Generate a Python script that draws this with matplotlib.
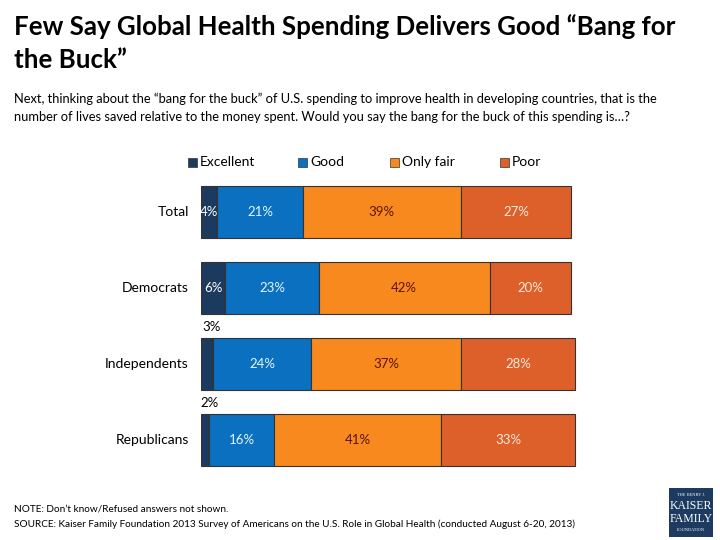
import matplotlib
matplotlib.use("Agg")
import matplotlib.pyplot as plt
from matplotlib.patches import Rectangle

FONT = "Lato"
plt.rcParams['font.family'] = [FONT, 'DejaVu Sans']

categories = ["Total", "Democrats", "Independents", "Republicans"]
series = ["Excellent", "Good", "Only fair", "Poor"]
excellent = [4, 6, 3, 2]
good = [21, 23, 24, 16]
only_fair = [39, 42, 37, 41]
poor = [27, 20, 28, 33]
values = [excellent, good, only_fair, poor]

colors = ["#1c3a5e", "#0a70bf", "#f7891e", "#dd5f2a"]
label_colors = ["white", "#e8f6ff", "#5a1500", "#fde9dc"]

W, H = 720, 540
fig = plt.figure(figsize=(7.2, 5.4), dpi=100)
renderer = fig.canvas.get_renderer()


def fx(px):
    return px / W


def fy(py):
    return 1 - py / H


def fit(t, target_px):
    """Scale a text's font size so its width matches target_px."""
    w = t.get_window_extent(renderer=renderer).width
    t.set_fontsize(t.get_fontsize() * target_px / w)


# axes: x=0 at px 201, 100% at ~607.6; rows every 76 px, centers 212..440
ax = fig.add_axes([fx(201), fy(478), (607.6 - 201) / W, 304 / H])
ax.set_xlim(0, 100)
ax.set_ylim(len(categories) - 0.5, -0.5)
ax.axis("off")

ypos = list(range(len(categories)))
left = [0] * len(categories)
for s, vals, c, lc in zip(series, values, colors, label_colors):
    ax.barh(ypos, vals, left=left, height=0.684, color=c,
            edgecolor="#333333", linewidth=0.8, label=s)
    for i, (v, l) in enumerate(zip(vals, left)):
        if v >= 4:
            ax.text(l + v / 2, i, f"{v}%", ha="center", va="center",
                    color=lc, fontsize=9.5)
        else:
            ax.text(l + v / 2 + 1.2, i - 0.342 - 0.06, f"{v}%", ha="center",
                    va="bottom", color="black", fontsize=9.5)
    left = [a + b for a, b in zip(left, vals)]

for i, cat in enumerate(categories):
    ax.text(-3.0, i, cat, ha="right", va="center", fontsize=10, color="black")

# legend
leg_x = [188, 298, 390, 500]
for s, c, x in zip(series, colors, leg_x):
    fig.patches.append(Rectangle((fx(x), fy(167)), 9 / W, 9 / H,
                                 transform=fig.transFigure, facecolor=c,
                                 edgecolor="#333333", linewidth=0.5))
    fig.text(fx(x + 12), fy(162), s, ha="left", va="center", fontsize=10)

# title and subtitle
t1 = fig.text(fx(14), fy(35), "Few Say Global Health Spending Delivers Good \u201cBang for",
              ha="left", va="baseline", fontsize=18, fontweight="bold")
fit(t1, 662)
fig.text(fx(14), fy(68), "the Buck\u201d", ha="left", va="baseline",
         fontsize=t1.get_fontsize(), fontweight="bold")

s1 = fig.text(fx(14), fy(103),
              "Next, thinking about the \u201cbang for the buck\u201d of U.S. spending to improve health in developing countries, that is the",
              ha="left", va="baseline", fontsize=9.6)
fit(s1, 652)
fig.text(fx(14), fy(121),
         "number of lives saved relative to the money spent. Would you say the bang for the buck of this spending is\u2026?",
         ha="left", va="baseline", fontsize=s1.get_fontsize())

# footer
n1 = fig.text(fx(14), fy(512), "NOTE: Don\u2019t know/Refused answers not shown.",
              ha="left", va="baseline", fontsize=7.6)
n2 = fig.text(fx(14), fy(527),
              "SOURCE: Kaiser Family Foundation 2013 Survey of Americans on the U.S. Role in Global Health (conducted August 6-20, 2013)",
              ha="left", va="baseline", fontsize=7.6)
fit(n2, 560)
n1.set_fontsize(n2.get_fontsize())

# logo
fig.patches.append(Rectangle((fx(669), fy(537)), 44 / W, 49 / H,
                             transform=fig.transFigure, facecolor="#1d3a60",
                             edgecolor="none"))
fig.text(fx(691), fy(495), "THE HENRY J.", ha="center", va="center",
         fontsize=3.2, color="white", family="Liberation Serif")
fig.text(fx(691), fy(506), "KAISER", ha="center", va="center",
         fontsize=8.5, color="white", family="Liberation Serif")
fig.text(fx(691), fy(519), "FAMILY", ha="center", va="center",
         fontsize=8.5, color="white", family="Liberation Serif")
fig.text(fx(691), fy(530), "FOUNDATION", ha="center", va="center",
         fontsize=3.2, color="white", family="Liberation Serif")

fig.savefig("out.png", dpi=100)
